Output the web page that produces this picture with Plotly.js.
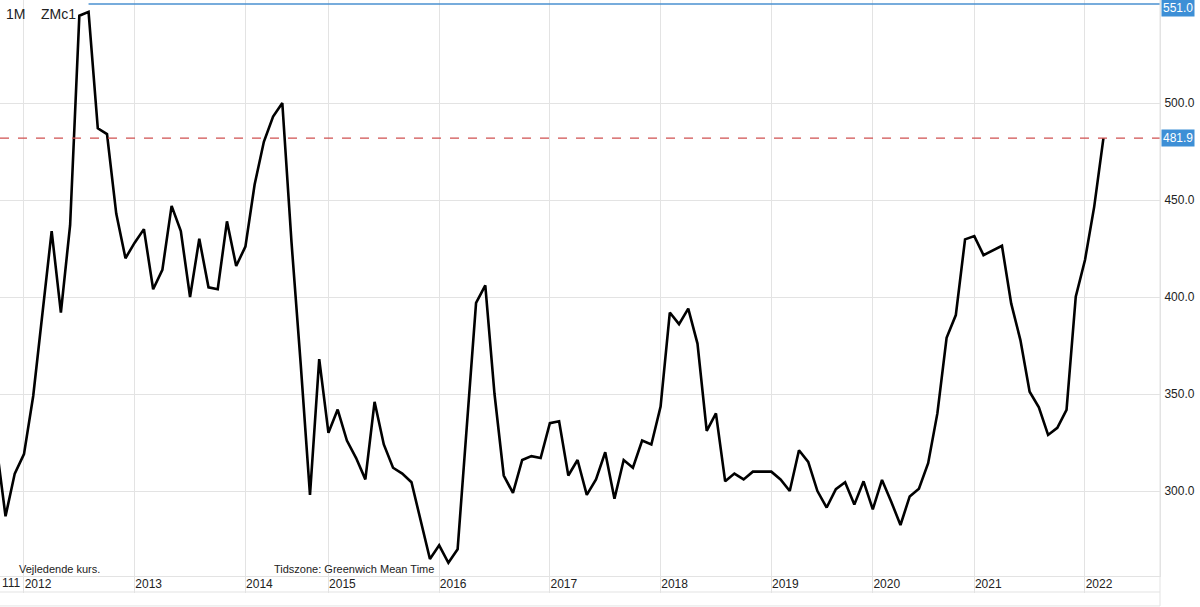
<!DOCTYPE html>
<html>
<head>
<meta charset="utf-8">
<script src="https://cdn.plot.ly/plotly-3.0.1.min.js"></script>
<style>html,body{margin:0;padding:0;background:#fff;}#chart{width:1200px;height:607px;}</style>
</head>
<body>
<div id="chart"></div>
<script>
const months = [
  "2011-10","2011-11","2011-12",
  "2012-01","2012-02","2012-03","2012-04","2012-05","2012-06","2012-07","2012-08","2012-09","2012-10","2012-11","2012-12",
  "2013-01","2013-02","2013-03","2013-04","2013-05","2013-06","2013-07","2013-08","2013-09","2013-10","2013-11","2013-12",
  "2014-01","2014-02","2014-03","2014-04","2014-05","2014-07","2014-08","2014-10","2014-12",
  "2015-01","2015-02","2015-03","2015-04","2015-05","2015-06","2015-07","2015-08","2015-09","2015-10","2015-11","2015-12",
  "2016-01","2016-02","2016-03","2016-04","2016-05","2016-06","2016-07","2016-08","2016-09","2016-10","2016-11","2016-12",
  "2017-01","2017-02","2017-03","2017-04","2017-05","2017-06","2017-07","2017-08","2017-09","2017-10","2017-11","2017-12",
  "2018-01","2018-02","2018-03","2018-04","2018-05","2018-06","2018-07","2018-08","2018-09","2018-10","2018-11","2018-12",
  "2019-01","2019-02","2019-03","2019-04","2019-05","2019-06","2019-07","2019-09","2019-10","2019-11","2019-12",
  "2020-01","2020-02","2020-03","2020-04","2020-05","2020-07","2020-08","2020-09","2020-10","2020-11","2020-12",
  "2021-01","2021-02","2021-03","2021-04","2021-05","2021-06","2021-07","2021-08","2021-09","2021-10","2021-11","2021-12",
  "2022-01","2022-02","2022-03"
];
const closes = [
  324, 287, 309,
  319, 349, 392, 434, 392, 437, 545, 547, 487, 484, 443, 420,
  428, 435, 404, 414, 447, 434, 400, 430, 405, 404, 439, 416,
  426, 458, 480, 493, 500, 428, 365, 298, 368,
  330, 342, 326, 317, 306, 346, 324, 312, 309, 304.5, 285, 265,
  272, 263, 270, 335, 397, 406, 350, 308, 299, 316, 318, 317,
  335, 336, 308, 316, 298, 306, 320, 296, 316, 312, 326, 324,
  343.5, 392, 386, 394, 376, 331, 340, 305, 309, 306, 310, 310,
  310, 306, 300, 321, 315, 300, 291.5, 301, 304.5, 293, 305,
  290.5, 305.7, 294.5, 282.5, 297.2, 301.2, 314.3, 340, 379, 390.7, 429.7,
  431.4, 421.6, 423.9, 426.4, 396.7, 377.8, 351.2, 343.1, 328.9, 332.6, 341.8, 400.2,
  419.1, 446.6, 481.9
];
const tickMonths = ["2012-01","2013-01","2014-01","2015-01","2016-01","2017-01","2018-01","2019-01","2020-01","2021-01","2022-01"];
const tickLabels = ["2012","2013","2014","2015","2016","2017","2018","2019","2020","2021","2022"];
const yTicks = [300, 350, 400, 450, 500];
const highValue = 551.0;
const highMonth = "2012-08";
const symbolText = "ZMc1";
const periodText = "1M";

const lastValue = closes[closes.length - 1];
const highIdx = months.indexOf(highMonth);
const FONT = "Liberation Sans, Arial, Helvetica, sans-serif";
const GRID = "#e3e3e3";

const trace = {
  x: months, y: closes, type: "scatter", mode: "lines",
  line: {color: "#000000", width: 2.6},
  hoverinfo: "skip", showlegend: false
};

const layout = {
  width: 1200, height: 607,
  margin: {l: 0, r: 40, t: 0, b: 31},
  paper_bgcolor: "#ffffff", plot_bgcolor: "#ffffff",
  font: {family: FONT, size: 12, color: "#222"},
  showlegend: false, hovermode: false,
  xaxis: {
    type: "category", range: [0.401, 126.13],
    tickmode: "array", tickvals: tickMonths, ticktext: tickLabels,
    showgrid: true, gridcolor: GRID, gridwidth: 1,
    showline: true, linecolor: GRID, linewidth: 1,
    ticks: "outside", ticklen: 16, tickcolor: GRID, tickwidth: 1,
    ticklabelshift: 14, ticklabelstandoff: -19,
    tickfont: {family: FONT, size: 12, color: "#222"},
    zeroline: false, fixedrange: true
  },
  yaxis: {
    side: "right", range: [256.2, 553.1],
    tickmode: "array", tickvals: yTicks, tickformat: ".1f",
    showgrid: true, gridcolor: GRID, gridwidth: 1,
    showline: true, linecolor: GRID, linewidth: 1, mirror: false,
    ticks: "", ticklabelstandoff: 1,
    tickfont: {family: FONT, size: 12, color: "#222"},
    zeroline: false, fixedrange: true
  },
  shapes: [
    {type: "line", xref: "x", yref: "y", x0: highIdx, x1: 126.13, y0: highValue, y1: highValue,
     line: {color: "#4a90d0", width: 1.5}},
    {type: "line", xref: "paper", yref: "y", x0: 0, x1: 1, y0: lastValue, y1: lastValue,
     line: {color: "#d05050", width: 1.2, dash: "dash"}},
    {type: "line", xref: "paper", yref: "paper", x0: 0, x1: 1, y0: -0.0278, y1: -0.0278,
     line: {color: GRID, width: 1}},
    {type: "line", xref: "paper", yref: "paper", x0: 0, x1: 1, y0: -0.052, y1: -0.052,
     line: {color: GRID, width: 1}},
    {type: "line", xref: "paper", yref: "paper", x0: 1, x1: 1, y0: -0.052, y1: 1,
     line: {color: GRID, width: 1}}
  ],
  annotations: [
    {xref: "paper", yref: "y", x: 1, y: highValue, xanchor: "left", yanchor: "middle", xshift: 1, yshift: -4,
     text: highValue.toFixed(1), showarrow: false, bgcolor: "#3d8fd6", borderpad: 1,
     font: {family: FONT, size: 12, color: "#ffffff"}},
    {xref: "paper", yref: "y", x: 1, y: lastValue, xanchor: "left", yanchor: "middle", xshift: 1,
     text: lastValue.toFixed(1), showarrow: false, bgcolor: "#3d8fd6", borderpad: 1,
     font: {family: FONT, size: 12, color: "#ffffff"}},
    {xref: "paper", yref: "paper", x: 0, y: 1, xanchor: "left", yanchor: "middle", xshift: 4, yshift: -14,
     text: periodText, showarrow: false, font: {family: FONT, size: 14, color: "#222"}},
    {xref: "paper", yref: "paper", x: 0, y: 1, xanchor: "left", yanchor: "middle", xshift: 39, yshift: -14,
     text: symbolText, showarrow: false, font: {family: FONT, size: 14, color: "#222"}},
    {xref: "paper", yref: "paper", x: 0, y: 0, xanchor: "left", yanchor: "middle", xshift: 17, yshift: 7,
     text: "Vejledende kurs.", showarrow: false, font: {family: FONT, size: 11, color: "#222"}},
    {xref: "paper", yref: "paper", x: 0, y: 0, xanchor: "left", yanchor: "middle", xshift: 272, yshift: 7,
     text: "Tidszone: Greenwich Mean Time", showarrow: false, font: {family: FONT, size: 11, color: "#222"}},
    {xref: "paper", yref: "paper", x: 0, y: 0, xanchor: "left", yanchor: "middle", xshift: 0, yshift: -7,
     text: "111", showarrow: false, font: {family: FONT, size: 12, color: "#222"}}
  ]
};

Plotly.newPlot("chart", [trace], layout, {displayModeBar: false, staticPlot: true});
</script>
</body>
</html>
